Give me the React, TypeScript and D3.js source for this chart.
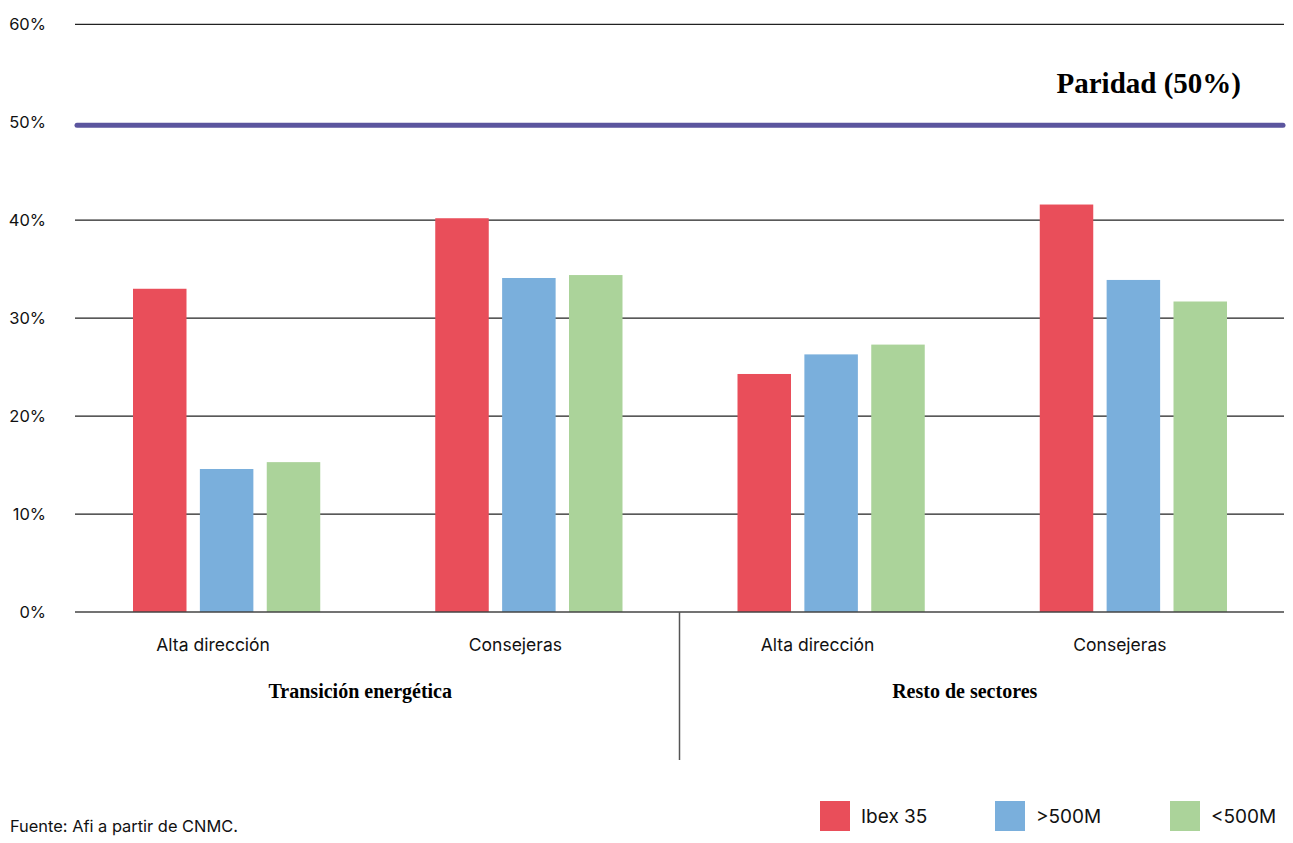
import React from "react";
import * as d3 from "d3";

const groups = ["Transición energética", "Resto de sectores"];
const categories = ["Alta dirección", "Consejeras", "Alta dirección", "Consejeras"];
const series = ["Ibex 35", ">500M", "<500M"];
const ibex35 = [33.0, 40.2, 24.3, 41.6];
const over500M = [14.6, 34.1, 26.3, 33.9];
const under500M = [15.3, 34.4, 27.3, 31.7];
const yTicks = [0, 10, 20, 30, 40, 50, 60];
const parity = 50;
const parityLabel = "Paridad (50%)";
const source = "Fuente: Afi a partir de CNMC.";

const colors = ["#e94e5a", "#7aafdc", "#abd39a"];
const SANS = "Inter, 'Noto Sans', sans-serif";
const SERIF = "'Liberation Serif', 'DejaVu Serif', serif";

export default function App() {
  const W = 1293, H = 843;
  const left = 75, right = 1284, top = 24.3, bottom = 612;
  const y = d3.scaleLinear().domain([0, 60]).range([bottom, top]);
  const x0 = d3.scaleBand<number>().domain(d3.range(categories.length)).range([left, right]).paddingInner(0).paddingOuter(0);
  const x1 = d3.scaleBand<number>().domain(d3.range(series.length)).range([58, x0.bandwidth() - 57]).paddingInner(0.2).paddingOuter(0);
  const values = [ibex35, over500M, under500M];
  const mid = (left + right) / 2;
  const groupCenters = [(left + mid) / 2, (mid + right) / 2];
  const legendX = [820, 995, 1170];

  return (
    <div style={{ position: "absolute", left: 0, top: 0 }}>
      <svg width={W} height={H} style={{ display: "block", background: "#fff" }}>
        {yTicks.map((t) => (
          <g key={t}>
            {t !== 0 && t !== parity && (
              <line x1={left} x2={right} y1={y(t)} y2={y(t)} stroke="#222" strokeWidth={1.2} />
            )}
            <text x={46} y={y(t) + 6} textAnchor="end" fontFamily={SANS} fontSize={16.5} fill="#111">
              {t}%
            </text>
          </g>
        ))}
        {categories.map((c, ci) =>
          series.map((s, si) => {
            const v = values[si][ci];
            const bx = (x0(ci) as number) + (x1(si) as number);
            return (
              <rect key={`${ci}-${si}`} x={bx} y={y(v)} width={x1.bandwidth()} height={bottom - y(v)} fill={colors[si]} />
            );
          })
        )}
        <line x1={left} x2={right} y1={bottom} y2={bottom} stroke="#444" strokeWidth={1.5} />
        <line x1={mid} x2={mid} y1={bottom} y2={760} stroke="#555" strokeWidth={1.5} />
        <line x1={left + 2} x2={right - 1} y1={y(parity) + 3} y2={y(parity) + 3} stroke="#5b559e" strokeWidth={5} strokeLinecap="round" />
        <text x={1241} y={93} textAnchor="end" fontFamily={SERIF} fontWeight="bold" fontSize={29} fill="#000">
          {parityLabel}
        </text>
        {categories.map((c, ci) => (
          <text key={ci} x={(x0(ci) as number) + x0.bandwidth() / 2 - 13} y={651} textAnchor="middle" fontFamily={SANS} fontSize={17.5} fill="#111">
            {c}
          </text>
        ))}
        {groups.map((g, gi) => (
          <text key={g} x={groupCenters[gi] - 17} y={698} textAnchor="middle" fontFamily={SERIF} fontWeight="bold" fontSize={20} fill="#000">
            {g}
          </text>
        ))}
        {series.map((s, si) => (
          <g key={s}>
            <rect x={legendX[si]} y={801} width={30} height={30} fill={colors[si]} />
            <text x={legendX[si] + 41} y={823} fontFamily={SANS} fontSize={19} fill="#111">
              {s}
            </text>
          </g>
        ))}
        <text x={10} y={832} fontFamily={SANS} fontSize={16.4} fill="#111">
          {source}
        </text>
      </svg>
    </div>
  );
}
